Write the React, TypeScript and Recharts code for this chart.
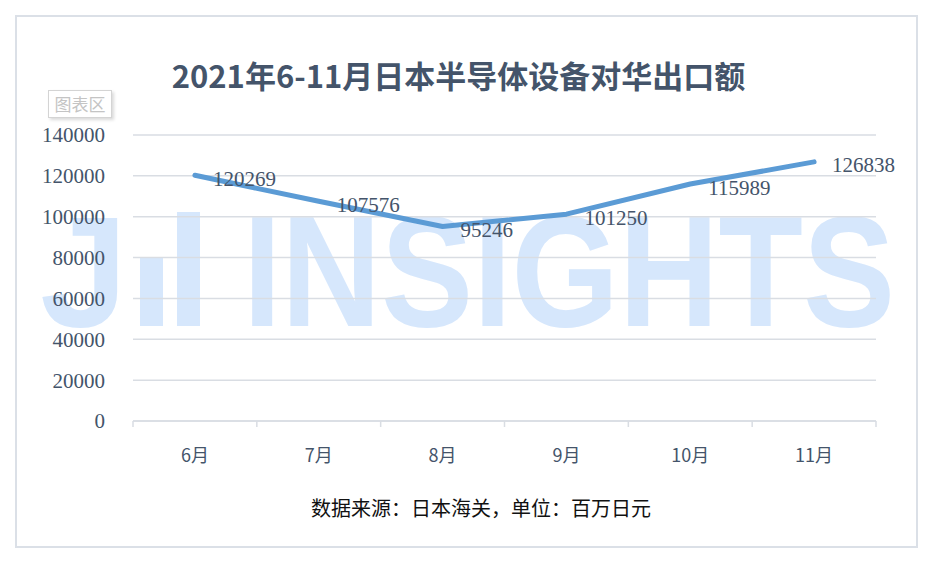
import {
  ComposedChart,
  Line,
  XAxis,
  YAxis,
  CartesianGrid,
  LabelList,
} from "recharts";

const months = ["6月", "7月", "8月", "9月", "10月", "11月"];
const exportValues = [120269, 107576, 95246, 101250, 115989, 126838];
const yTicks = [0, 20000, 40000, 60000, 80000, 100000, 120000, 140000];
const edgeTicks = [0, 1, 2, 3, 4, 5, 6];

const data = months.map((month, i) => ({
  month,
  value: exportValues[i],
  slot: i + 0.5,
}));

const ink = "#44546a";
const gridColor = "#d9dde3";
const serif = "'Liberation Serif', 'DejaVu Serif', serif";
const cjk = "'Noto Sans CJK SC', 'Noto Sans', sans-serif";

function Watermark() {
  const blue = "#d6e7fc";
  return (
    <svg
      width={934}
      height={561}
      style={{ position: "absolute", left: 0, top: 0 }}
    >
      <text
        x={40}
        y={326}
        fontSize={158}
        fontWeight={700}
        fontFamily="'Liberation Sans', Arial, sans-serif"
        fill={blue}
      >
        J
      </text>
      <rect x={140} y={258} width={23} height={68} fill={blue} />
      <rect x={177} y={212} width={23} height={114} fill={blue} />
      <text
        x={243}
        y={326}
        fontSize={158}
        fontWeight={700}
        fontFamily="'Liberation Sans', Arial, sans-serif"
        fill={blue}
        textLength={652}
        lengthAdjust="spacingAndGlyphs"
      >
        INSIGHTS
      </text>
    </svg>
  );
}

export default function App() {
  return (
    <div
      style={{
        position: "relative",
        width: 934,
        height: 561,
        margin: -8,
        background: "#fff",
        overflow: "hidden",
      }}
    >
      <Watermark />
      <div
        style={{
          position: "absolute",
          left: 15,
          top: 15,
          width: 903,
          height: 533,
          border: "2px solid #dbe0e7",
          boxSizing: "border-box",
        }}
      />
      <div style={{ position: "absolute", left: 0, top: 0 }}>
        <ComposedChart
          width={934}
          height={561}
          data={data}
          margin={{ top: 135, right: 58, bottom: 92, left: 0 }}
        >
          <CartesianGrid
            vertical={false}
            stroke={gridColor}
            strokeWidth={1.5}
          />
          <XAxis
            xAxisId="a-edge"
            dataKey="slot"
            type="number"
            domain={[0, 6]}
            ticks={edgeTicks}
            allowDataOverflow
            height={8}
            tickFormatter={() => ""}
            tickSize={6}
            stroke={gridColor}
            strokeWidth={1.5}
          />
          <XAxis
            xAxisId="b-band"
            dataKey="month"
            type="category"
            scale="band"
            height={40}
            axisLine={false}
            tickLine={false}
            tickSize={0}
            tickMargin={20}
            tick={{ fill: ink, fontSize: 18, fontFamily: cjk }}
          />
          <YAxis
            width={133}
            domain={[0, 140000]}
            ticks={yTicks}
            axisLine={false}
            tickLine={false}
            tickSize={0}
            tickMargin={28}
            tick={{ fill: ink, fontSize: 21, fontFamily: serif }}
          />
          <Line
            xAxisId="b-band"
            type="linear"
            dataKey="value"
            stroke="#5b9bd5"
            strokeWidth={5}
            strokeLinecap="round"
            strokeLinejoin="round"
            dot={false}
            activeDot={false}
            isAnimationActive={false}
          >
            <LabelList
              dataKey="value"
              position="right"
              offset={18}
              dy={3}
              fill={ink}
              fontSize={21}
              fontFamily={serif}
            />
          </Line>
        </ComposedChart>
      </div>
      <div
        style={{
          position: "absolute",
          left: 0,
          top: 58,
          width: 917,
          textAlign: "center",
          fontFamily: cjk,
          fontWeight: 700,
          fontSize: 31,
          lineHeight: "34px",
          color: ink,
        }}
      >
        2021年6-11月日本半导体设备对华出口额
      </div>
      <div
        style={{
          position: "absolute",
          left: 48,
          top: 90,
          width: 64,
          height: 28,
          border: "1px solid #d4d4d4",
          boxShadow: "2px 2px 3px rgba(0,0,0,0.15)",
          background: "#fff",
          boxSizing: "border-box",
          fontFamily: cjk,
          fontSize: 17,
          lineHeight: "26px",
          textAlign: "center",
          color: "#c4c4c4",
        }}
      >
        图表区
      </div>
      <div
        style={{
          position: "absolute",
          left: 0,
          top: 495,
          width: 962,
          textAlign: "center",
          fontFamily: cjk,
          fontSize: 20,
          lineHeight: "26px",
          color: "#111",
        }}
      >
        数据来源：日本海关，单位：百万日元
      </div>
    </div>
  );
}
